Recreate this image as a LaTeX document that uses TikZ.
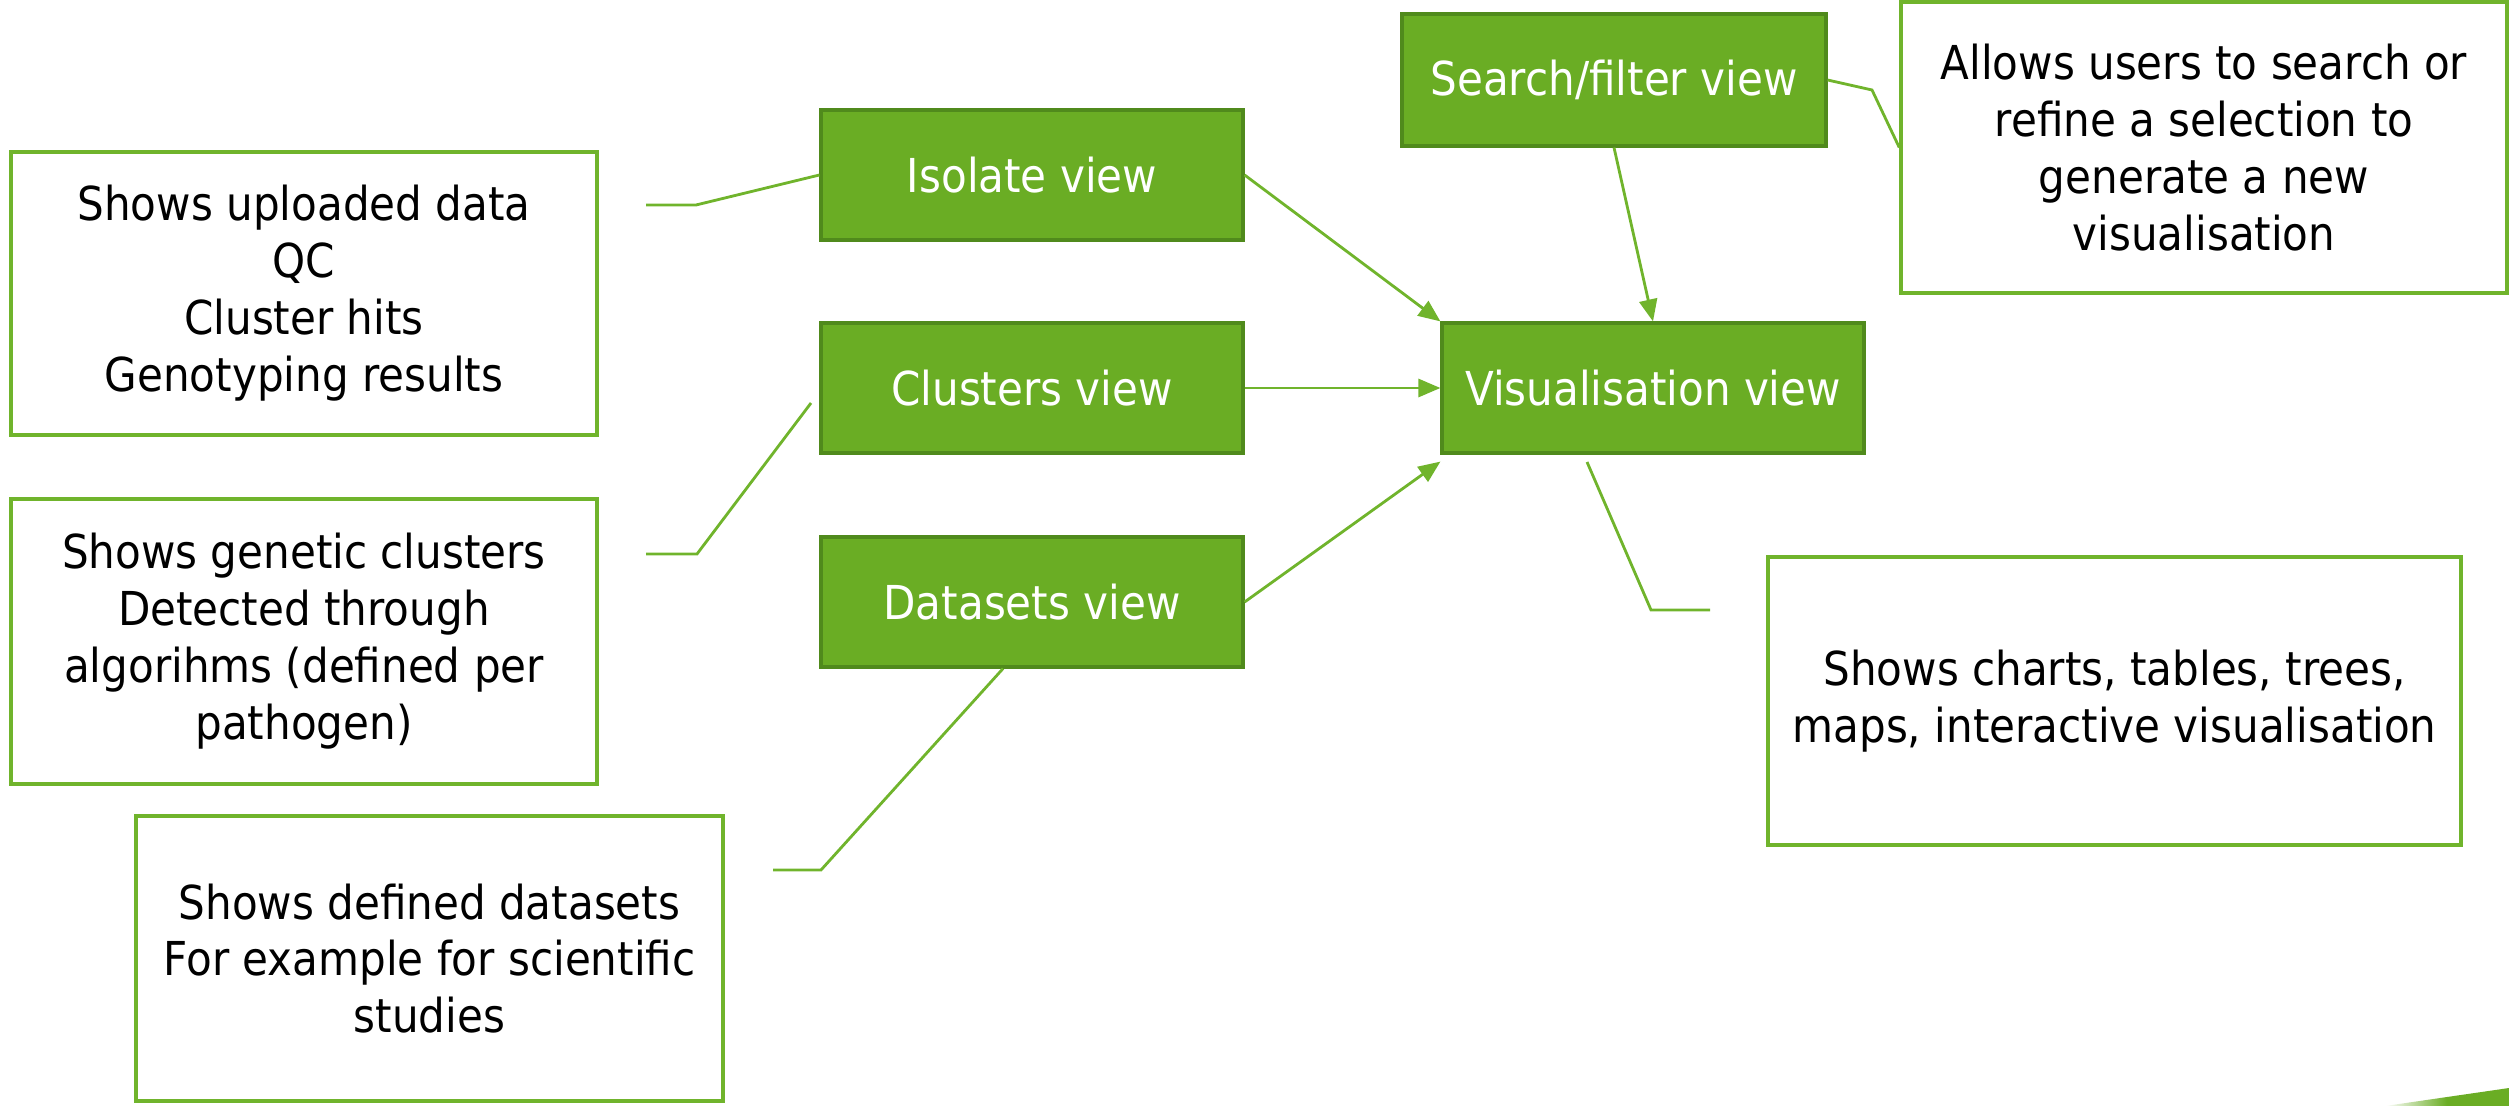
\documentclass[tikz,border=0pt]{standalone}
\usepackage{fontspec}
\setmainfont{DejaVu Sans}[FakeStretch=0.9]
\usepackage{xcolor}
\usepackage{tikz}
\usetikzlibrary{arrows.meta,positioning,calc}

\definecolor{viewgreen}{RGB}{106,173,36}
\definecolor{viewedge}{RGB}{80,138,28}
\definecolor{linegreen}{RGB}{112,180,44}

\begin{document}
\begin{tikzpicture}[
    viewbox/.style={rectangle, draw=viewedge, line width=0.9pt, fill=viewgreen, text=white, minimum width=4.22cm, minimum height=1.3cm, font=\fontsize{13.3}{16.2}\selectfont, align=center},
    infobox/.style={rectangle, draw=linegreen, line width=1pt, fill=white, font=\fontsize{13.3}{16.2}\selectfont, align=center},
    arrow/.style={-{Triangle[length=0.22cm, width=0.18cm]}, line width=0.8pt, linegreen},
    callout/.style={line width=0.8pt, linegreen}
]
    \useasboundingbox (0,0) rectangle (25.09,-11.06);

    % Views
    \node[viewbox] (isolate) at (10.32,-1.75) {Isolate view};
    \node[viewbox] (clusters) at (10.32,-3.88) {Clusters view};
    \node[viewbox] (datasets) at (10.32,-6.02) {Datasets view};
    \node[viewbox] (visual) at (16.53,-3.88) {Visualisation view};
    \node[viewbox, minimum width=4.24cm, minimum height=1.32cm] (search) at (16.14,-0.80) {Search/filter view};

    % Descriptions
    \node[infobox, minimum width=5.86cm, minimum height=2.83cm] (info_iso) at (3.04,-2.935) {Shows uploaded data \\ QC \\ Cluster hits \\ Genotyping results};
    \node[infobox, minimum width=5.86cm, minimum height=2.85cm] (info_clu) at (3.04,-6.415) {Shows genetic clusters \\ Detected through \\ algorihms (defined per \\ pathogen)};
    \node[infobox, minimum width=5.87cm, minimum height=2.85cm] (info_dat) at (4.295,-9.585) {Shows defined datasets \\ For example for scientific \\ studies};
    \node[infobox, minimum width=6.93cm, minimum height=2.88cm] (info_vis) at (21.145,-7.01) {Shows charts, tables, trees, \\ maps, interactive visualisation};
    \node[infobox, minimum width=6.06cm, minimum height=2.91cm] (info_search) at (22.04,-1.475) {Allows users to search or \\ refine a selection to \\ generate a new \\ visualisation};

    % Arrows
    \draw[arrow] (isolate.east) -- (visual.north west);
    \draw[arrow] (clusters.east) -- (visual.west);
    \draw[arrow] (datasets.east) -- ($(visual.south west)+(0,-0.07)$);
    \draw[arrow] (search.south) -- (visual.north);

    % Callout lines
    \coordinate (iso_bend) at (6.96,-2.05);
    \coordinate (iso_end) at (6.46,-2.05);
    \draw[callout] (isolate.west) -- (iso_bend) -- (iso_end);

    \coordinate (clu_tip) at (8.11,-4.03);
    \coordinate (clu_bend) at (6.97,-5.54);
    \coordinate (clu_end) at (6.46,-5.54);
    \draw[callout] (clu_tip) -- (clu_bend) -- (clu_end);

    \coordinate (dat_bend) at (8.21,-8.70);
    \coordinate (dat_end) at (7.73,-8.70);
    \draw[callout] ($(datasets.south)+(-0.29,0)$) -- (dat_bend) -- (dat_end);

    \coordinate (vis_tip) at (15.87,-4.62);
    \coordinate (vis_bend) at (16.51,-6.10);
    \coordinate (vis_end) at (17.10,-6.10);
    \draw[callout] (vis_tip) -- (vis_bend) -- (vis_end);

    \coordinate (search_bend) at (18.72,-0.90);
    \draw[callout] (search.east) -- (search_bend) -- (info_search.west);

    % Corner swoosh
    \shade[left color=white, right color=viewgreen, middle color=viewgreen] (23.85,-11.06) -- (25.09,-10.88) -- (25.09,-11.06) -- cycle;
\end{tikzpicture}
\end{document}
